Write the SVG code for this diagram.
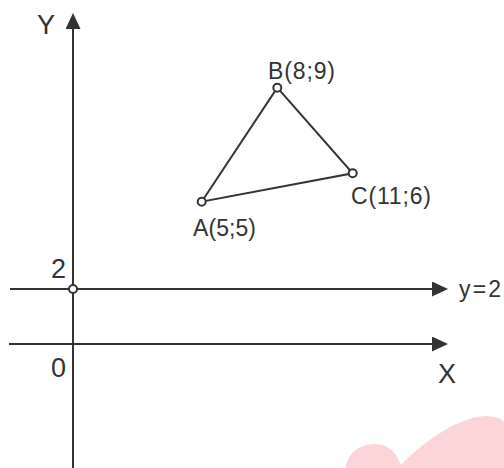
<svg xmlns="http://www.w3.org/2000/svg" width="504" height="468" viewBox="0 0 504 468">
<defs>
<style>
.ln{stroke:#333;stroke-width:2;fill:none}
.pt{fill:#fff;stroke:#333;stroke-width:2}
.big{font-family:"Liberation Sans",Arial,sans-serif;font-size:27px;fill:#333}
.lbl{font-family:"Liberation Sans",Arial,sans-serif;font-size:23px;fill:#333}
</style>
<marker id="arr" viewBox="0 0 16 15" refX="8" refY="7.5" markerWidth="16" markerHeight="15" markerUnits="userSpaceOnUse" orient="auto">
<path d="M0,0 L16,7.5 L0,15 Z" fill="#333"/>
</marker>
</defs>
<rect width="504" height="468" fill="#fff"/>
<path d="M346 468 C348 452 360 444 376 444 C390 444 397 455 401 465 C420 445 455 418 485 416 C495 416 504 420 504 422 L504 468 Z" fill="#fbd5d7"/>
<g id="connectors">
<line id="y-axis" class="ln" x1="73" y1="468" x2="73" y2="21" marker-end="url(#arr)"/>
<line id="x-axis" class="ln" x1="9" y1="344" x2="440" y2="344" marker-end="url(#arr)"/>
<line id="line-y2" class="ln" x1="10" y1="289" x2="440" y2="289" marker-end="url(#arr)"/>
<polygon id="triangle" class="ln" points="201.7,201.7 277.3,87.7 352.7,173.3"/>
</g>
<g id="axis-labels">
<text class="big" x="37" y="34">Y</text>
<text class="big" x="438" y="383">X</text>
<text class="big" x="51" y="278">2</text>
<text class="big" x="51" y="377">0</text>
<text class="lbl" x="459" y="297" textLength="42" lengthAdjust="spacing">y=2</text>
</g>
<g id="point-2"><circle class="pt" cx="73" cy="289" r="4"/></g>
<g id="point-A"><circle class="pt" cx="201.7" cy="201.7" r="4"/><text class="lbl" x="193" y="236" textLength="63" lengthAdjust="spacing">A(5;5)</text></g>
<g id="point-B"><circle class="pt" cx="277.3" cy="87.7" r="4"/><text class="lbl" x="268" y="79" textLength="67" lengthAdjust="spacing">B(8;9)</text></g>
<g id="point-C"><circle class="pt" cx="352.7" cy="173.3" r="4"/><text class="lbl" x="351" y="204" textLength="80" lengthAdjust="spacing">C(11;6)</text></g>
</svg>
